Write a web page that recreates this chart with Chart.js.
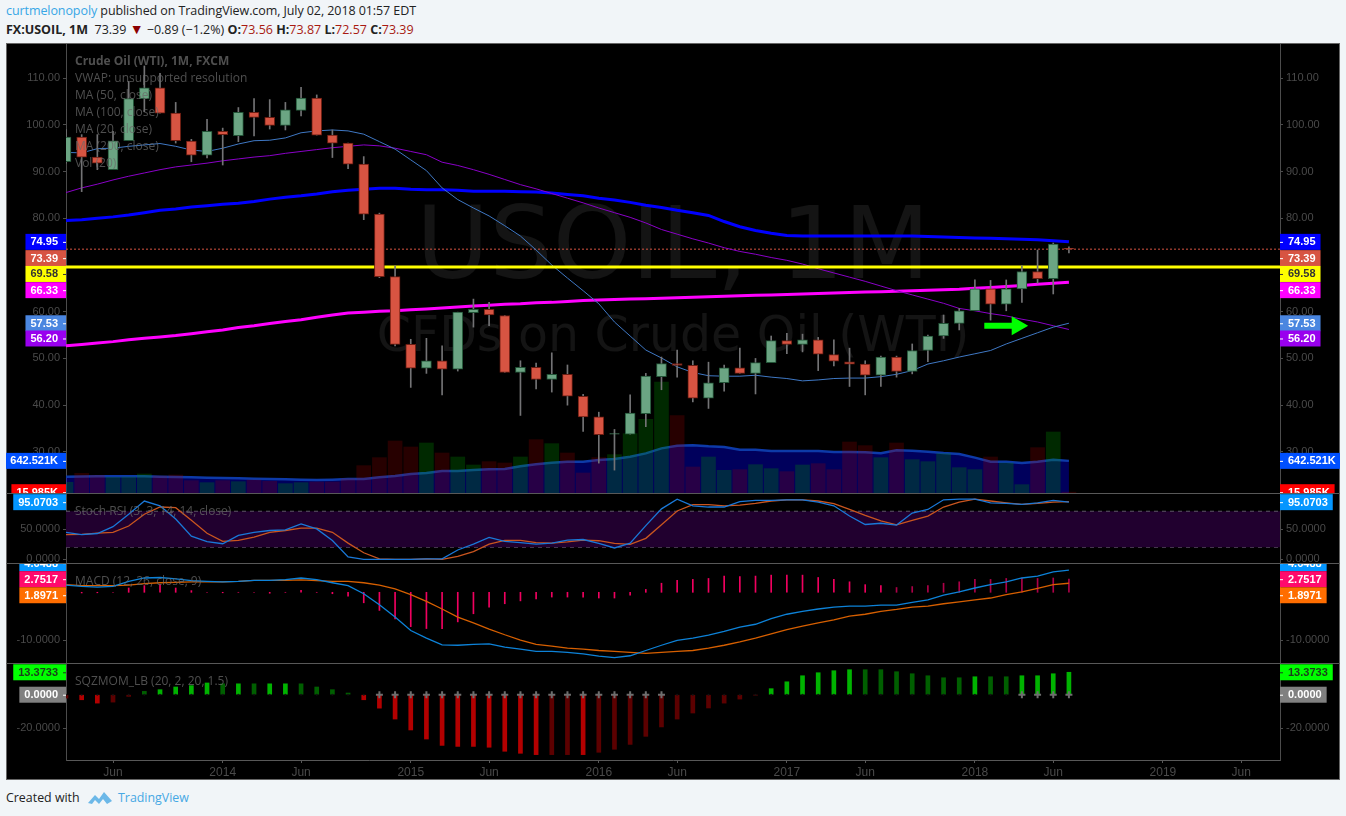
<!DOCTYPE html>
<html>
<head>
<meta charset="utf-8">
<title>USOIL, 1M</title>
<script src="https://cdn.jsdelivr.net/npm/chart.js@4"></script>
<style>
  body { margin: 0; background: #f1f5f8; width: 1346px; height: 816px; overflow: hidden; position: relative; font-family: "Open Sans", sans-serif; }
  .head { position: absolute; left: 6px; font-size: 12.5px; color: #222; white-space: pre; line-height: 18px; }
  .head b { font-weight: 700; }
  .head .red { color: #a81a12; }
  #panel { position: absolute; left: 6px; top: 43px; width: 1334px; height: 737px; background: #000; box-shadow: 0 0 0 1px #666 inset; }
  canvas { position: absolute; left: 6px; }
  .mark { position: absolute; left: 6px; width: 1334px; text-align: center; font-family: "DejaVu Sans", sans-serif; color: #141414; white-space: pre; }
  .sep { position: absolute; left: 6px; width: 1334px; height: 1px; background: #585858; }
  .legend { position: absolute; left: 75px; font-size: 12px; line-height: 17px; color: rgba(105,105,105,0.75); white-space: pre; }
  #foot { position: absolute; left: 6px; top: 789px; font-size: 12.4px; line-height: 18px; color: #222; }
  #foot span { position: absolute; left: 112px; top: 0; color: #46a8e4; }
  #foot svg { position: absolute; left: 81px; top: 0; }
</style>
</head>
<body>
<div class="head" style="top:2px;letter-spacing:-0.08px"><span style="color:#37a6e6">curtmelonopoly</span> published on TradingView.com, July 02, 2018 01:57 EDT</div>
<div class="head" style="top:20px"><b>FX:USOIL, 1M</b>  73.39 <span style="color:#8b0000;font-size:14px">▼</span> −0.89 (−1.2%) <b>O:</b><span class="red">73.56</span> <b>H:</b><span class="red">73.87</span> <b>L:</b><span class="red">72.57</span> <b>C:</b><span class="red">73.39</span></div>

<div id="panel"></div>
<div class="mark" style="top:185px;font-size:100px;line-height:118px">USOIL, 1M</div>
<div class="mark" style="top:308px;font-size:49px;line-height:54px">CFDs on Crude Oil (WTI)</div>

<canvas id="priceChart" width="1334" height="449" style="top:44px"></canvas>
<canvas id="stochChart" width="1334" height="70" style="top:493px"></canvas>
<canvas id="macdChart" width="1334" height="100" style="top:563px"></canvas>
<canvas id="sqzChart" width="1334" height="116" style="top:663px"></canvas>

<div class="sep" style="top:493px"></div>
<div class="sep" style="top:563px"></div>
<div class="sep" style="top:663px"></div>

<div class="legend" style="top:52px"><b>Crude Oil (WTI), 1M, FXCM</b>
VWAP: unsupported resolution
MA (50, close)
MA (100, close)
MA (20, close)
MA (200, close)
Vol (20)</div>
<div class="legend" style="top:502px">Stoch RSI (3, 3, 14, 14, close)</div>
<div class="legend" style="top:572px">MACD (12, 26, close, 9)</div>
<div class="legend" style="top:672px">SQZMOM_LB (20, 2, 20, 1.5)</div>

<div id="foot">Created with
  <svg width="26" height="18" viewBox="0 0 26 18"><path d="M1 14 L8 6 L12 10 L17 3 L25 12 L20 15 L16 10 L12 15 L8 11 L5 15 Z" fill="#6cb8e8"/></svg>
  <span>TradingView</span>
</div>

<script>
// month slots of the visible candles, Mar 2013 .. Jul 2018
const opens = [92.1,97.4,93.1,90.4,96.6,105.6,107.9,102.5,96.5,93.5,98.6,97.7,102.7,101.6,99.9,103.1,105.7,97.8,96.1,91.6,80.9,67.5,53,47.9,49.5,47.7,59.8,60.5,59.2,47,48.1,45.5,46.6,41.9,37.5,33.8,33.8,38.2,46.1,48.9,48.5,41.5,44.8,48,46.8,49.1,53.8,53,54,50.8,49.3,48.8,46.4,50.3,47.2,51.7,54.8,57.5,60.2,64.9,61.6,64.9,68.6,67.1,73.56];
const closes = [97.4,93.1,91.8,96.6,105.6,107.9,102.5,96.6,93.5,98.6,97.9,102.7,101.6,99.9,103.2,105.7,97.8,96.1,91.6,80.9,67.5,53,47.9,49.5,47.7,59.9,60.5,59.3,47,48.1,45.5,46.6,41.9,37.5,33.7,33.9,38.3,46.2,48.9,48.5,41.5,44.8,48,46.8,49.1,53.8,53,54,50.9,49.4,48.8,46.4,50.3,47.2,51.7,54.8,57.5,60.2,64.9,61.6,64.9,68.6,67.1,74.5,73.39];
const highs = [99,97.9,97.9,98.6,109.3,112.6,111,104.8,96.9,101.2,99.3,103.7,105.6,105.4,104.8,108,106.4,98.9,96.1,93.2,81.1,69.8,54.1,54.3,52.7,59.9,62.7,62,59.2,49.5,49,51.2,48.6,42.3,38.5,34.8,42.2,46.8,50.3,51.8,49.5,49.2,48.6,52.2,50,54.8,55.4,55.2,54.5,54,52.2,49.5,50.5,50.5,53.1,55,59.3,60.7,66.8,66.7,66.8,69.8,73.2,74.7,73.87];
const lows = [91.8,85.7,90.4,90.4,96.6,102.8,102.5,96.1,92.1,92.9,91.4,96.4,97.6,99.1,98.9,101.9,97.8,93,90.6,79.7,67.3,52.7,43.8,46.8,42.2,47.3,56.7,57,47,37.8,43.5,42.8,40,34.4,27.6,26.1,33.8,35.4,43.3,46,40.7,39.3,43,46.8,42.4,49.1,51,51.4,47.4,48.4,44,42.2,44,46,46.7,49.3,54.3,56.1,60.2,58.2,60.2,62,66.1,63.8,72.57];

const ma50 = [79.5,79.7,80,80.3,80.7,81.2,81.7,82,82.4,82.7,83,83.2,83.6,84.1,84.5,84.8,85.2,85.7,86,86.2,86.4,86.4,86.2,86.1,86.1,86,85.8,85.8,85.8,85.7,85.6,85.4,85.1,84.8,84.3,83.9,83.4,82.8,82.3,81.7,81.2,80.6,79.3,78.2,77.4,76.8,76.3,76.2,76.2,76.2,76.2,76.2,76.2,76.2,76.2,76.1,76,75.9,75.8,75.7,75.6,75.5,75.4,75.2,74.95];
const ma100 = [52.7,53,53.3,53.6,54,54.3,54.6,54.9,55.3,55.7,56.1,56.6,57,57.5,57.9,58.3,58.8,59.3,59.7,59.9,60.1,60.2,60.4,60.6,60.8,61,61.2,61.4,61.6,61.7,61.9,62,62.2,62.4,62.5,62.6,62.7,62.8,62.9,63,63.1,63.2,63.3,63.4,63.5,63.6,63.7,63.8,63.9,64,64.1,64.2,64.3,64.4,64.5,64.6,64.7,64.8,65,65.2,65.4,65.6,65.9,66.1,66.33];
const ma20 = [94.1,94,94.9,95,95.4,95.7,96,95.4,94.6,94.3,95,95.9,96.6,96.7,97.2,98.3,98.7,98.9,98.7,98,96.4,94.8,92.5,90.2,86.5,84,82.2,80.5,78.4,76.2,73.2,70,67.2,64.5,61.7,57.8,54.8,51.8,50.1,48.2,47,46.3,46.2,46.2,46.4,46,45.7,45.2,45.4,45.7,45.8,45.8,46.1,46.6,47.4,48.8,49.5,50.3,51,51.7,53.1,54.3,55.5,56.7,57.53];
const ma200 = [85.5,86.5,87.3,88.2,89,89.7,90.4,91,91.4,91.8,92.3,92.7,93.1,93.4,93.9,94.3,94.7,95.1,95.4,95.7,95.5,95,94.3,93.6,92,91.3,90.4,89.4,88.3,87.2,86.3,85.3,84.3,83.3,82.2,81.2,80.2,79,77.6,76.6,75.6,74.7,73.7,72.9,72.3,71.6,71,70.2,69.2,68.3,67.4,66.5,65.5,64.5,63.6,62.7,61.8,60.7,60.2,59.6,59.1,58.4,57.8,57,56.2];

const hline = 69.58;
const lastClose = 73.39;
const arrowValue = 57;
const arrowMonths = [58.6, 60.7];

// volume in thousands
const volume = [214,393,353,313,320,380,340,360,247,207,247,227,260,233,187,207,220,220,287,547,707,1040,920,1000,800,720,560,627,600,720,1067,987,800,400,707,767,1187,1473,2220,1547,520,720,453,467,567,487,427,560,587,467,1020,947,707,1000,667,627,787,507,467,720,600,167,907,1220,16];
const volumeMa = [327,330,333,333,333,333,327,320,313,307,300,293,287,280,273,267,260,267,280,280,313,340,380,400,440,440,460,473,480,533,573,607,627,627,660,680,727,793,893,947,953,933,920,867,867,840,840,840,840,820,820,813,793,853,847,827,800,780,707,627,627,600,627,667,642.5];

const stochK = [45,41,43,54.4,75,97,89,67,38.5,29.4,26,40,45,48,49,59,50.6,31.5,4,0,0,0,0,1,0.75,15.6,25.5,36.5,30,28,25.5,27,32,33,26.6,19,27,56,84,100,89,87,87,96,98,98,99,99,95,89,72,58,60,57,77,83,99,100,100,94,93,91.5,94,98,95.07];
const stochD = [41,41.7,43.5,45,55.5,75,87,86,65,43.5,30,31.5,37,45,48,52,52,45,27,11,1,0,0,1,0,5,13,25.5,31.5,31.5,28,27,29,32,31,26.6,25,35,57.5,80.5,91,91,89,90,93,97,99,99,97,92.6,83,73,64,57.4,65,72,87,95,100,97,94,91.5,93,95,96];
const stochBand = [20, 80];

const macdLine = [1.5,1.25,1.1,1.25,2.3,3,3.1,2.8,2.45,2.3,2.2,2.3,2.5,2.5,2.65,3,2.65,2,1.4,-0.3,-2.6,-5.2,-8,-9.6,-11,-11.1,-10.9,-10.8,-11.5,-11.9,-12.4,-12.4,-12.6,-12.9,-13.4,-13.7,-13.3,-12.2,-11.1,-10.1,-9.6,-9,-8.2,-7.3,-6.7,-5.5,-4.6,-4,-3.5,-3.1,-2.9,-2.9,-2.7,-2.7,-2.1,-1.6,-0.6,0.1,0.9,1.6,2.2,3,3.4,4.3,4.65];
const macdSignal = [1.6,1.4,1.4,1.4,1.5,1.8,2,2.1,2.2,2.2,2.2,2.3,2.5,2.5,2.5,2.6,2.45,2.3,2.3,2,1.5,0.7,-0.5,-1.9,-3.5,-5.2,-6.4,-7.7,-8.9,-10,-10.9,-11.3,-11.7,-11.9,-12.2,-12.4,-12.6,-12.8,-12.6,-12.4,-12.2,-11.7,-11.1,-10.4,-9.6,-8.7,-7.8,-7.1,-6.4,-5.8,-5,-4.6,-4,-3.6,-3.1,-2.9,-2.4,-2,-1.6,-1.2,-0.5,0.1,0.8,1.6,1.9];
const macdHist = [0,-0.14,-0.1,0,0.9,1.4,1.6,0.9,0.35,0,-0.1,0,0,-0.2,0,0.4,0,-0.3,-0.8,-2.2,-3.8,-5.6,-7.2,-7.6,-7.6,-6.2,-4.5,-3.1,-2.4,-1.8,-1.4,-1,-1,-1,-1.2,-1.2,-0.6,0.6,1.9,2.5,2.7,2.9,3.4,3.3,3.4,3.6,3.6,3.6,3.1,2.7,2.2,1.6,1.4,1,1.2,1.4,1.9,2.2,2.7,2.7,2.9,3,2.9,3,2.75];

const sqzMom = [-2,-3,-5,-4.4,-1,2,3,4.6,5.4,7,6.5,6.5,6.5,6.5,6.5,6.5,4.6,3,1,-3,-8,-14.5,-21,-26.4,-30.2,-30.8,-30.8,-31.3,-33.7,-34.9,-35.7,-35.7,-35.7,-35.7,-34.3,-32.5,-29.6,-24.8,-19.2,-14.5,-10.9,-7.9,-5,-2.6,-0.2,3.6,7.7,11.3,13.1,14.3,14.9,14.9,14.9,13.7,12.5,11.3,10.1,10.1,10.7,10.7,10.7,11.3,11.3,12.5,13.37];
const sqzBright = [0,1,1,0,0,0,1,1,1,1,0,1,0,1,1,0,0,0,0,1,1,1,1,1,1,1,1,1,1,1,1,0,0,1,0,0,0,0,0,0,0,0,0,0,0,1,1,1,1,1,1,0,0,0,0,0,0,0,1,0,0,1,1,1,1];
const sqzOn = [0,0,0,0,0,0,0,0,0,0,0,0,0,0,0,0,0,0,0,0,1,1,1,1,1,1,1,1,1,1,1,1,1,1,1,1,1,1,1,0,0,0,0,0,0,0,0,0,0,0,0,0,0,0,0,0,0,0,0,0,0,1,1,1,1];

// axis ticks
const priceTicks = [110,100,90,80,70,60,50,40,30];
const stochTicks = [50,0];
const macdTicks = [-10];
const sqzTicks = [0,-20];
const timeTickMonths = [3,10,15,22,27,34,39,46,51,58,63,70,75];
const timeTickNames = ["Jun","2014","Jun","2015","Jun","2016","Jun","2017","Jun","2018","Jun","2019","Jun"];

const months = closes.map((v, i) => i);
const xMax = 77.47;
const gridColor = "#4c4c4c";
const tickColor = "#4a4a4a";
const tickFont = { family: "Liberation Sans", size: 11 };

const badgePlugin = {
  id: "badges",
  afterDraw(chart, args, opts) {
    const ctx = chart.ctx;
    const area = chart.chartArea;
    ctx.save();
    ctx.font = "bold 11px 'Liberation Sans'";
    ctx.textBaseline = "middle";
    for (const b of opts.items) {
      const y = chart.scales[b.scale].getPixelForValue(b.value) + (b.dy || 0);
      const w = ctx.measureText(b.text).width + 13;
      // same tag on both price scales
      ctx.fillStyle = b.color;
      ctx.fillRect(area.left - w, y - 8, w, 16);
      ctx.fillRect(area.right, y - 8, w, 16);
      ctx.fillStyle = b.ink || "#fff";
      ctx.fillRect(area.left - 3, y, 3, 1);
      ctx.fillRect(area.right, y, 3, 1);
      ctx.textAlign = "left";
      ctx.fillText(b.text, area.left - w + 5, y + 0.5);
      ctx.fillText(b.text, area.right + 8, y + 0.5);
    }
    ctx.restore();
  },
};

// tick labels at the pane edges must not eat into the chart area
function noPadding(s) {
  s.paddingTop = 0;
  s.paddingBottom = 0;
  s.paddingLeft = 0;
  s.paddingRight = 0;
}

function yAxis(position, min, max, ticks, digits) {
  return {
    position: position,
    min: min,
    max: max,
    afterFit: (s) => { s.width = 60; noPadding(s); },
    afterBuildTicks: (s) => { s.ticks = ticks.map((v) => ({ value: v })); },
    border: { color: gridColor },
    grid: { drawOnChartArea: false, color: gridColor, tickLength: 3 },
    ticks: {
      color: tickColor,
      font: tickFont,
      padding: 3,
      autoSkip: false,
      maxRotation: 0,
      callback: (v) => Number(v).toFixed(digits),
    },
  };
}

function xAxis(show) {
  return {
    type: "linear",
    display: show,
    offset: false,
    min: 0,
    max: xMax,
    // a hidden axis still runs afterFit, so only the bottom pane gets a height
    afterFit: (s) => { s.height = show ? 19 : 0; noPadding(s); },
    afterBuildTicks: (s) => { s.ticks = timeTickMonths.map((v) => ({ value: v })); },
    border: { color: "#585858" },
    grid: { drawOnChartArea: false, offset: false, color: "#585858", tickLength: 3 },
    ticks: {
      color: tickColor,
      font: { family: "Liberation Sans", size: 12 },
      padding: 2,
      autoSkip: false,
      maxRotation: 0,
      callback: (v) => timeTickNames[timeTickMonths.indexOf(v)],
    },
  };
}

function lineSet(values, color, width, order) {
  return {
    type: "line",
    data: values,
    borderColor: color,
    borderWidth: width,
    pointRadius: 0,
    tension: 0,
    order: order,
    yAxisID: "y",
  };
}

function flatLine(value, color, width, order) {
  const set = lineSet([{ x: 0, y: value }, { x: xMax, y: value }], color, width, order);
  return set;
}

function makeChart(id, datasets, scales, badges) {
  return new Chart(document.getElementById(id), {
    type: "bar",
    data: { labels: months, datasets: datasets },
    options: {
      responsive: false,
      animation: false,
      events: [],
      layout: { padding: 0, autoPadding: false },
      scales: scales,
      plugins: { legend: { display: false }, tooltip: { enabled: false }, badges: { items: badges } },
    },
    plugins: [badgePlugin],
  });
}

const upBody = "#6ba583", upEdge = "#225437", downBody = "#d75442", downEdge = "#6b1d12";
const isUp = closes.map((c, i) => c >= opens[i]);

// ---------- price + volume ----------
makeChart("priceChart", [
  {
    type: "line", data: volumeMa, yAxisID: "vol", order: 12, pointRadius: 0, tension: 0,
    borderColor: "#0d3aa8", borderWidth: 2.5, fill: "start", backgroundColor: "rgba(0,0,255,0.36)",
  },
  {
    data: volume, yAxisID: "vol", order: 11, grouped: false, barThickness: 14,
    backgroundColor: isUp.map((u) => (u ? "rgba(0,150,0,0.27)" : "rgba(170,0,0,0.23)")),
  },
  Object.assign(flatLine(lastClose, "#d75442", 1, 9), { borderDash: [2, 2] }),
  lineSet(ma100, "#ff00ff", 3, 8),
  lineSet(ma50, "#0000ff", 3, 7),
  lineSet(ma200, "#8a00c8", 1, 6),
  lineSet(ma20, "#3f78c4", 1, 5),
  flatLine(hline, "#ffff00", 3, 4),
  {
    data: lows.map((l, i) => [l, highs[i]]), yAxisID: "y", order: 3, grouped: false, barThickness: 1,
    backgroundColor: "#737375",
  },
  {
    data: opens.map((o, i) => [o, closes[i]]), yAxisID: "y", order: 2, grouped: false, barThickness: 10,
    backgroundColor: isUp.map((u) => (u ? upBody : downBody)),
    borderColor: isUp.map((u) => (u ? upEdge : downEdge)),
    borderWidth: 1, borderSkipped: false,
  },
  {
    type: "line", yAxisID: "y", order: 1,
    data: arrowMonths.map((m) => ({ x: m, y: arrowValue })),
    borderColor: "#00ff00", backgroundColor: "#00ff00", borderWidth: 6,
    pointStyle: "triangle", pointRotation: 90, pointRadius: [0, 11], pointBorderWidth: 0,
  },
], {
  x: xAxis(false),
  y: yAxis("left", 21.2, 117.3, priceTicks, 2),
  y2: yAxis("right", 21.2, 117.3, priceTicks, 2),
  vol: { display: false, min: 0, max: 8980 },
}, [
  { scale: "y", value: 74.95, text: "74.95", color: "#0000ff" },
  { scale: "y", value: 73.39, text: "73.39", color: "#d75442", dy: 9 },
  { scale: "y", value: 69.58, text: "69.58", color: "#ffff00", ink: "#333", dy: 7 },
  { scale: "y", value: 66.33, text: "66.33", color: "#ff00ff", dy: 8 },
  { scale: "y", value: 57.53, text: "57.53", color: "#4a86e0" },
  { scale: "y", value: 56.2, text: "56.20", color: "#9900ee", dy: 9 },
  { scale: "vol", value: 642.5, text: "642.521K", color: "#0050ff" },
  { scale: "vol", value: 16, text: "15.985K", color: "#ff0000" },
]);

// ---------- stoch rsi ----------
const bandTop = [{ x: 0, y: stochBand[1] }, { x: xMax, y: stochBand[1] }];
const bandLow = [{ x: 0, y: stochBand[0] }, { x: xMax, y: stochBand[0] }];
makeChart("stochChart", [
  Object.assign(lineSet(bandLow, "#5e5566", 1, 5), { borderDash: [4, 4] }),
  Object.assign(lineSet(bandTop, "#5e5566", 1, 4), { borderDash: [4, 4], fill: "-1", backgroundColor: "#21002f" }),
  lineSet(stochD, "#c9551f", 1.3, 3),
  lineSet(stochK, "#1a78d8", 1.3, 2),
], {
  x: xAxis(false),
  y: yAxis("left", -6, 110.3, stochTicks, 4),
  y2: yAxis("right", -6, 110.3, stochTicks, 4),
}, [
  { scale: "y", value: 95.07, text: "95.0703", color: "#0496ff" },
]);

// ---------- macd ----------
makeChart("macdChart", [
  {
    data: macdHist, yAxisID: "y", order: 5, grouped: false, barThickness: 1,
    backgroundColor: months.map((m) => (m < 53 ? "#f0005f" : "#ad0048")),
  },
  lineSet(macdSignal, "#d65f00", 1.3, 3),
  lineSet(macdLine, "#0d82d8", 1.3, 2),
], {
  x: xAxis(false),
  y: yAxis("left", -14.82, 6.14, macdTicks, 4),
  y2: yAxis("right", -14.82, 6.14, macdTicks, 4),
}, [
  { scale: "y", value: 4.65, text: "4.6488", color: "#0496ff", dy: -7 },
  { scale: "y", value: 2.75, text: "2.7517", color: "#ff0a6c" },
  { scale: "y", value: 1.9, text: "1.8971", color: "#ff6d00", dy: 12 },
]);

// ---------- squeeze momentum ----------
function sqzColor(v, i) {
  if (v >= 0) return sqzBright[i] ? "#00b300" : "#005f00";
  return sqzBright[i] ? "#b30000" : "#5c0000";
}
makeChart("sqzChart", [
  {
    data: sqzMom, yAxisID: "y", order: 5, grouped: false, barThickness: 4,
    backgroundColor: sqzMom.map(sqzColor),
  },
  {
    type: "line", yAxisID: "y", order: 2, showLine: false,
    data: months.map(() => 0),
    pointStyle: months.map((m) => (sqzOn[m] ? "crossRot" : "circle")),
    pointRotation: 45,
    pointRadius: months.map((m) => (sqzOn[m] ? 3.5 : 1)),
    pointBorderWidth: months.map((m) => (sqzOn[m] ? 2 : 0)),
    pointBorderColor: "#6e6e6e",
    pointBackgroundColor: months.map((m) => (sqzOn[m] ? "#6e6e6e" : "#111")),
  },
], {
  x: xAxis(true),
  y: yAxis("left", -38.9, 18.9, sqzTicks, 4),
  y2: yAxis("right", -38.9, 18.9, sqzTicks, 4),
}, [
  { scale: "y", value: 13.37, text: "13.3733", color: "#00ff00", ink: "#1c3c1c" },
  { scale: "y", value: 0, text: "0.0000", color: "#808080" },
]);
</script>
</body>
</html>
